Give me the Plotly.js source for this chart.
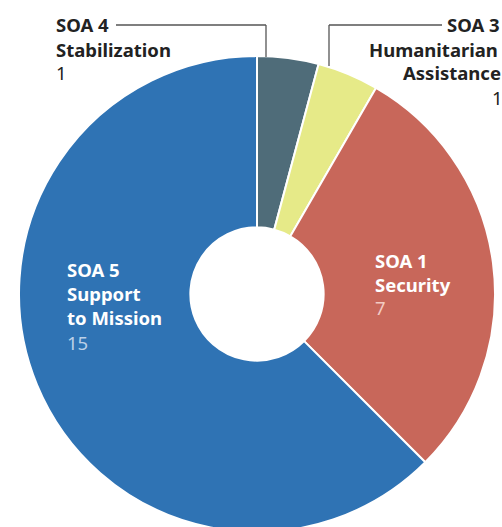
<!DOCTYPE html>
<html>
<head>
<meta charset="utf-8">
<script src="https://cdn.plot.ly/plotly-3.0.1.min.js"></script>
<style>
html,body{margin:0;padding:0;background:#fff;overflow:hidden;width:502px;height:527px;}
#chart{width:502px;height:533px;}
</style>
</head>
<body>
<div id="chart"></div>
<script>
// ---- data ----
var codes = ["SOA 4", "SOA 3", "SOA 1", "SOA 5"];
var names = [["Stabilization"], ["Humanitarian", "Assistance"], ["Security"], ["Support", "to Mission"]];
var counts = [1, 1, 7, 15];
var colors = ["#4f6c79", "#e6ea88", "#c8675a", "#2f73b4"];

var W = 502, H = 533;
function px(x){ return x / W; }
function py(y){ return 1 - y / H; }

var FONT = "Noto Sans";
var FS = 18.5;
var dark = "#222222";

var trace = {
  type: "pie",
  labels: codes,
  values: counts,
  sort: false,
  direction: "clockwise",
  rotation: 0,
  hole: 0.28,
  textinfo: "none",
  hoverinfo: "label+value",
  marker: { colors: colors, line: { color: "#ffffff", width: 2 } },
  domain: { x: [px(19), px(495)], y: [0, py(55)] }
};

function ann(text, x, y, opts){
  opts = opts || {};
  return {
    text: text, x: px(x), y: py(y), xref: "paper", yref: "paper",
    xanchor: "left", yanchor: "middle", showarrow: false,
    font: { family: FONT, size: FS, color: opts.color || dark }
  };
}
function b(t){ return "<b>" + t + "</b>"; }

var annotations = [
  // SOA 4 (outside, top-left)
  ann(b(codes[0]), 54, 25),
  ann(b(names[0][0]), 54, 49),
  ann(String(counts[0]), 54, 73),
  // SOA 3 (outside, top-right)
  ann(b(codes[1]), 445, 25),
  ann(b(names[1][0]), 367, 49),
  ann(b(names[1][1]), 401, 73),
  ann(String(counts[1]), 490, 97),
  // SOA 1 (inside)
  ann(b(codes[2]), 373, 260, {color: "#ffffff"}),
  ann(b(names[2][0]), 373, 284, {color: "#ffffff"}),
  ann(String(counts[2]), 373, 307, {color: "#f3cbc3"}),
  // SOA 5 (inside)
  ann(b(codes[3]), 65, 269, {color: "#ffffff"}),
  ann(b(names[3][0]), 65, 293, {color: "#ffffff"}),
  ann(b(names[3][1]), 65, 317, {color: "#ffffff"}),
  ann(String(counts[3]), 65, 342, {color: "#bcd0e8"})
];

function seg(x0, y0, x1, y1){
  return { type: "line", xref: "paper", yref: "paper",
    x0: px(x0), y0: py(y0), x1: px(x1), y1: py(y1),
    line: { color: "#555555", width: 1.3 } };
}
var shapes = [
  seg(116, 25, 266, 25), seg(266, 25, 266, 57),
  seg(329, 25, 442, 25), seg(329, 25, 329, 66)
];

var layout = {
  width: W, height: H,
  margin: { l: 0, r: 0, t: 0, b: 0 },
  paper_bgcolor: "#ffffff",
  showlegend: false,
  annotations: annotations,
  shapes: shapes
};

Plotly.newPlot("chart", [trace], layout, { displayModeBar: false, staticPlot: true });
</script>
</body>
</html>
